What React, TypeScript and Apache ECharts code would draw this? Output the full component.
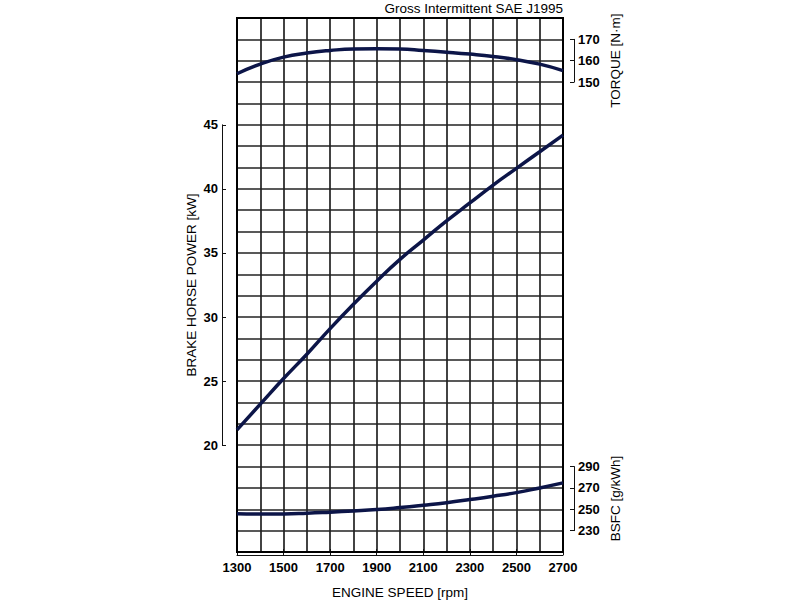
import React, { useEffect, useRef } from "react";
import * as echarts from "echarts";

const RPM = [1300, 1400, 1500, 1600, 1700, 1800, 1900, 2000, 2100, 2200, 2300, 2400, 2500, 2600, 2700];
const POWER_KW = [21.2, 23.2, 25.2, 27.1, 29.1, 31.0, 32.8, 34.5, 36.0, 37.5, 38.9, 40.3, 41.6, 42.9, 44.2];
const TORQUE_NM = [153.9, 158.4, 161.7, 163.6, 164.8, 165.5, 165.6, 165.5, 164.8, 164.0, 163.1, 162.0, 160.5, 158.4, 155.4];
const BSFC = [245.9, 245.5, 245.6, 246.3, 247.3, 248.4, 249.7, 251.6, 253.8, 256.2, 259.1, 262.2, 265.6, 270.0, 274.7];

const X_TICKS = [1300, 1500, 1700, 1900, 2100, 2300, 2500, 2700];
const POWER_TICKS = [20, 25, 30, 35, 40, 45];
const TORQUE_TICKS = [150, 160, 170];
const BSFC_TICKS = [230, 250, 270, 290];

const TITLE = "Gross Intermittent SAE J1995";
const FONT = "'Liberation Sans', Arial, sans-serif";
const CURVE = "#0c1548";
const GRIDLINE = "#222";

const pairs = (ys: number[]) => RPM.map((x, i) => [x, ys[i]]);

export default function App() {
  const ref = useRef<HTMLDivElement>(null);
  useEffect(() => {
    if (!ref.current) return;
    const chart = echarts.init(ref.current, undefined, { renderer: "svg" });
    const L = 237, W = 326, TOP = 18, H = 534;
    const row = H / 25;
    const lbl = { color: "#000", fontSize: 13, fontWeight: "bold", fontFamily: FONT, formatter: (v: number) => String(v) };
    const nameStyle = { color: "#000", fontSize: 13.5, fontFamily: FONT };
    const hiddenX = (g: number) => ({
      type: "value", gridIndex: g, min: RPM[0], max: RPM[RPM.length - 1], show: false,
    });
    const sideY = (g: number, ticks: number[], pos: string, offset: number, name: string, gap: number) => ({
      type: "value", gridIndex: g, position: pos, offset,
      min: ticks[0], max: ticks[ticks.length - 1], interval: ticks[1] - ticks[0],
      name, nameLocation: "middle", nameRotate: 90, nameGap: gap, nameTextStyle: nameStyle,
      axisLine: { show: true, onZero: false, lineStyle: { color: "#111", width: 1 } },
      axisTick: { show: true, inside: true, length: 4, lineStyle: { color: "#111", width: 1 } },
      axisLabel: { ...lbl, margin: 4 },
      splitLine: { show: false },
    });
    const option: any = {
      animation: false,
      backgroundColor: "#fff",
      title: {
        text: TITLE, right: 800 - (L + W), top: 1, padding: 0,
        textStyle: { fontSize: 13.5, fontWeight: "normal", color: "#000", fontFamily: FONT },
      },
      grid: [
        { left: L, top: TOP, width: W, height: H, show: true, borderColor: "#000", borderWidth: 2, backgroundColor: "transparent", z: 1 },
        { left: L, top: TOP + 5 * row, width: W, height: 15 * row },
        { left: L, top: TOP + row, width: W, height: 2 * row },
        { left: L, top: TOP + 21 * row, width: W, height: 3 * row },
        { left: L, top: TOP + H, width: W, height: 12 },
      ],
      xAxis: [
        {
          type: "value", gridIndex: 0, min: RPM[0], max: RPM[RPM.length - 1], interval: RPM[1] - RPM[0],
          axisLine: { show: false, onZero: false }, axisTick: { show: false }, axisLabel: { show: false },
          splitLine: { show: true, lineStyle: { color: GRIDLINE, width: 1.7 } },
        },
        hiddenX(1), hiddenX(2), hiddenX(3),
        {
          type: "value", gridIndex: 4, position: "bottom",
          min: X_TICKS[0], max: X_TICKS[X_TICKS.length - 1], interval: X_TICKS[1] - X_TICKS[0],
          name: "ENGINE SPEED [rpm]", nameLocation: "middle", nameGap: 30, nameTextStyle: nameStyle,
          axisLine: { show: true, onZero: false, lineStyle: { color: "#111", width: 1 } },
          axisTick: { show: true, inside: true, length: 6, lineStyle: { color: "#111", width: 1 } },
          axisLabel: { ...lbl, margin: 6 },
          splitLine: { show: false },
        },
      ],
      yAxis: [
        {
          type: "value", gridIndex: 0, min: 0, max: 25, interval: 1,
          axisLine: { show: false, onZero: false }, axisTick: { show: false }, axisLabel: { show: false },
          splitLine: { show: true, lineStyle: { color: GRIDLINE, width: 1.7 } },
        },
        sideY(1, POWER_TICKS, "left", 15, "BRAKE HORSE POWER [kW]", 24),
        sideY(2, TORQUE_TICKS, "right", 11, "TORQUE [N·m]", 34),
        sideY(3, BSFC_TICKS, "right", 11, "BSFC [g/kWh]", 34),
        { type: "value", gridIndex: 4, min: 0, max: 1, show: false },
      ],
      series: [
        { type: "line", xAxisIndex: 1, yAxisIndex: 1, data: pairs(POWER_KW), smooth: true, showSymbol: false, clip: false, lineStyle: { color: CURVE, width: 3.5 }, z: 5 },
        { type: "line", xAxisIndex: 2, yAxisIndex: 2, data: pairs(TORQUE_NM), smooth: true, showSymbol: false, clip: false, lineStyle: { color: CURVE, width: 3.5 }, z: 5 },
        { type: "line", xAxisIndex: 3, yAxisIndex: 3, data: pairs(BSFC), smooth: true, showSymbol: false, clip: false, lineStyle: { color: CURVE, width: 3.5 }, z: 5 },
      ],
    };
    chart.setOption(option);
    return () => chart.dispose();
  }, []);
  return <div ref={ref} style={{ position: "fixed", left: 0, top: 0, width: 800, height: 600 }} />;
}
